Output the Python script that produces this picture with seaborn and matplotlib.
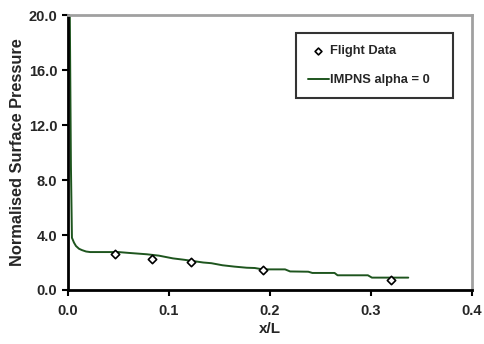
import matplotlib
matplotlib.use("Agg")
import matplotlib.pyplot as plt
import seaborn as sns
import pandas as pd

# IMPNS prediction (alpha = 0)
impns_x = [0.0015, 0.003, 0.004, 0.006, 0.008, 0.011, 0.014, 0.018, 0.022, 0.05,
           0.06, 0.078, 0.09, 0.104, 0.115, 0.134, 0.142, 0.153, 0.165, 0.177,
           0.185, 0.193, 0.215, 0.22, 0.238, 0.242, 0.264, 0.267, 0.297, 0.301, 0.337]
impns_y = [24.0, 9.0, 3.8, 3.45, 3.2, 3.0, 2.9, 2.8, 2.76, 2.76,
           2.7, 2.6, 2.5, 2.3, 2.2, 2.0, 1.95, 1.8, 1.7, 1.62,
           1.6, 1.5, 1.5, 1.35, 1.33, 1.24, 1.24, 1.07, 1.07, 0.9, 0.9]

# flight measurements
flight_x = [0.0465, 0.083, 0.122, 0.193, 0.32]
flight_y = [2.6, 2.25, 2.06, 1.45, 0.73]

line_df = pd.DataFrame({"x": impns_x, "y": impns_y})
pts_df = pd.DataFrame({"x": flight_x, "y": flight_y})

sns.set_style("ticks")
plt.rcParams["font.family"] = ["Liberation Sans", "DejaVu Sans"]
plt.rcParams["font.weight"] = "bold"

fig = plt.figure(figsize=(4.85, 3.44), dpi=100)
ax = fig.add_axes([0.140, 0.157, 0.833, 0.799])

sns.lineplot(data=line_df, x="x", y="y", ax=ax, sort=False, color="#1e551e",
             linewidth=1.4, label="IMPNS alpha = 0", zorder=2)
sns.scatterplot(data=pts_df, x="x", y="y", ax=ax, marker="D", s=18,
                facecolor="white", edgecolor="black", linewidth=1.2,
                label="Flight Data", zorder=3)

ax.set_xlim(0, 0.4)
ax.set_ylim(0, 20)
ax.set_xticks([0.0, 0.1, 0.2, 0.3, 0.4])
ax.set_xticklabels(["0.0", "0.1", "0.2", "0.3", "0.4"])
ax.set_yticks([0, 4, 8, 12, 16, 20])
ax.set_yticklabels(["0.0", "4.0", "8.0", "12.0", "16.0", "20.0"])
ax.tick_params(labelsize=10.5, length=4, width=1.5, direction="out", color="black")
ax.tick_params(axis="x", pad=6)
for lab in ax.get_xticklabels() + ax.get_yticklabels():
    lab.set_fontweight("bold")

ax.set_xlabel("x/L", fontsize=11, fontweight="bold", labelpad=3)
ax.set_ylabel("Normalised Surface Pressure", fontsize=11.8, fontweight="bold", labelpad=3)

for side in ["left", "bottom"]:
    ax.spines[side].set_color("black")
    ax.spines[side].set_linewidth(2)
for side in ["top", "right"]:
    ax.spines[side].set_visible(True)
    ax.spines[side].set_color("#a0a0a0")
    ax.spines[side].set_linewidth(2)

handles, labels = ax.get_legend_handles_labels()
order = [labels.index("Flight Data"), labels.index("IMPNS alpha = 0")]
leg = ax.legend([handles[i] for i in order], [labels[i] for i in order],
                loc="upper left", bbox_to_anchor=(0.564, 0.935, 0.389, 0.0),
                mode="expand",
                prop={"size": 9.3, "weight": "bold"}, frameon=True, fancybox=False,
                edgecolor="black", handlelength=1.6, handletextpad=0.1,
                borderpad=0.95, labelspacing=1.3, borderaxespad=0)
leg.get_frame().set_linewidth(1.5)
leg.legend_handles[0].set_sizes([12])

fig.savefig("out.png", dpi=100)
